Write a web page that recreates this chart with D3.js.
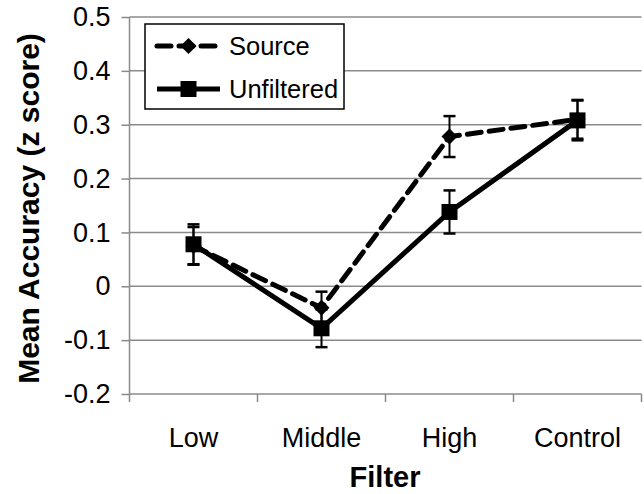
<html>

<head>
	<title>Mean Accuracy by Filter</title>
	<script src="https://d3js.org/d3.v7.min.js"></script>
	<style>
		body {
			margin: 0;
			background: #fff;
		}

		text {
			font-family: "Liberation Sans", Arial, sans-serif;
			fill: #000;
		}
	</style>
</head>

<body>
	<div id="chart"></div>
	<script>
		let categories = ["Low", "Middle", "High", "Control"];
		let sourceMean = [0.075, -0.04, 0.278, 0.31];
		let sourceErr = [0.035, 0.03, 0.038, 0.036];
		let unfilteredMean = [0.078, -0.078, 0.138, 0.308];
		let unfilteredErr = [0.037, 0.035, 0.04, 0.037];
		let yTicks = [-0.2, -0.1, 0, 0.1, 0.2, 0.3, 0.4, 0.5];
		let yTickLabels = ["-0.2", "-0.1", "0", "0.1", "0.2", "0.3", "0.4", "0.5"];

		let width = 644,
			height = 494;
		let plotLeft = 129.5,
			plotRight = 641.5,
			plotTop = 17,
			plotBottom = 394;

		let svg = d3.select("#chart").append("svg")
			.attr("width", width)
			.attr("height", height);

		let x = d3.scaleBand().domain(categories).range([plotLeft, plotRight]);
		let y = d3.scaleLinear().domain([-0.2, 0.5]).range([plotBottom, plotTop]);

		// gridlines
		svg.append("g").selectAll("line").data(yTicks.filter(d => d > -0.2)).enter().append("line")
			.attr("x1", plotLeft)
			.attr("x2", plotRight)
			.attr("y1", d => y(d))
			.attr("y2", d => y(d))
			.attr("stroke", "#8a8a8a")
			.attr("stroke-width", 1.5);

		// y axis
		let yAxis = svg.append("g")
			.attr("transform", "translate(" + plotLeft + ",0)")
			.call(d3.axisLeft(y).tickValues(yTicks).tickSize(8).tickPadding(11)
				.tickFormat((d, i) => yTickLabels[i]));
		yAxis.select(".domain").remove();
		yAxis.selectAll(".tick line").attr("stroke", "#8a8a8a").attr("stroke-width", 1.5);
		yAxis.selectAll("text").attr("font-size", 27).style("font-family", "Liberation Sans, Arial, sans-serif");
		svg.append("line")
			.attr("x1", plotLeft).attr("x2", plotLeft)
			.attr("y1", plotTop).attr("y2", plotBottom + 8)
			.attr("stroke", "#8a8a8a").attr("stroke-width", 1.5);

		// x axis
		svg.append("line")
			.attr("x1", plotLeft).attr("x2", plotRight)
			.attr("y1", plotBottom).attr("y2", plotBottom)
			.attr("stroke", "#8a8a8a").attr("stroke-width", 1.5);
		svg.append("g").selectAll("line").data(categories).enter().append("line")
			.attr("x1", d => x(d) + x.bandwidth())
			.attr("x2", d => x(d) + x.bandwidth())
			.attr("y1", plotBottom)
			.attr("y2", plotBottom + 8)
			.attr("stroke", "#8a8a8a").attr("stroke-width", 1.5);
		svg.append("g").selectAll("text").data(categories).enter().append("text")
			.attr("x", d => x(d) + x.bandwidth() / 2)
			.attr("y", 447)
			.attr("text-anchor", "middle")
			.attr("font-size", 27)
			.text(d => d);

		// axis titles
		svg.append("text")
			.attr("x", 385)
			.attr("y", 487)
			.attr("text-anchor", "middle")
			.attr("font-size", 29)
			.attr("font-weight", "bold")
			.text("Filter");
		svg.append("text")
			.attr("transform", "translate(39," + ((plotTop + plotBottom) / 2 + 3) + ") rotate(-90)")
			.attr("text-anchor", "middle")
			.attr("font-size", 30)
			.attr("font-weight", "bold")
			.text("Mean Accuracy (z score)");

		let cx = d => x(d) + x.bandwidth() / 2;

		function series(means, errs, dashed, marker) {
			let pts = categories.map((c, i) => ({
				c: c,
				v: means[i],
				e: errs[i]
			}));
			let g = svg.append("g");
			g.append("path")
				.datum(pts)
				.attr("d", d3.line().x(d => cx(d.c)).y(d => y(d.v)))
				.attr("fill", "none")
				.attr("stroke", "#000")
				.attr("stroke-width", 5)
				.attr("stroke-dasharray", dashed ? "14,8" : null)
				.attr("stroke-linecap", dashed ? "round" : "butt");
			// error bars
			let eb = g.selectAll(".eb").data(pts).enter().append("g");
			eb.append("line")
				.attr("x1", d => cx(d.c)).attr("x2", d => cx(d.c))
				.attr("y1", d => y(d.v + d.e)).attr("y2", d => y(d.v - d.e))
				.attr("stroke", "#000").attr("stroke-width", 2);
			[1, -1].forEach(s => {
				eb.append("line")
					.attr("x1", d => cx(d.c) - 6).attr("x2", d => cx(d.c) + 6)
					.attr("y1", d => y(d.v + s * d.e)).attr("y2", d => y(d.v + s * d.e))
					.attr("stroke", "#000").attr("stroke-width", 2.5);
			});
			// markers
			g.selectAll(".mk").data(pts).enter().append("path")
				.attr("transform", d => "translate(" + cx(d.c) + "," + y(d.v) + ")")
				.attr("d", marker)
				.attr("fill", "#000");
		}

		let diamond = "M0,-8L8,0L0,8L-8,0Z";
		let square = "M-8,-8H8V8H-8Z";

		series(sourceMean, sourceErr, true, diamond);
		series(unfilteredMean, unfilteredErr, false, square);

		// legend
		let lg = svg.append("g");
		lg.append("rect")
			.attr("x", 145).attr("y", 24)
			.attr("width", 199).attr("height", 85)
			.attr("fill", "#fff")
			.attr("stroke", "#000")
			.attr("stroke-width", 1.5);
		let legendItems = [{
			name: "Source",
			dashed: true,
			marker: diamond
		}, {
			name: "Unfiltered",
			dashed: false,
			marker: square
		}];
		legendItems.forEach((d, i) => {
			let ly = 46 + i * 43;
			lg.append("line")
				.attr("x1", 157).attr("x2", 220)
				.attr("y1", ly).attr("y2", ly)
				.attr("stroke", "#000")
				.attr("stroke-width", 5)
				.attr("stroke-dasharray", d.dashed ? "14,8" : null)
				.attr("stroke-linecap", d.dashed ? "round" : "butt");
			lg.append("path")
				.attr("transform", "translate(188.5," + ly + ")")
				.attr("d", d.marker)
				.attr("fill", "#000");
			lg.append("text")
				.attr("x", 229).attr("y", ly + 9)
				.attr("font-size", 25.5)
				.text(d.name);
		});
	</script>
</body>

</html>
